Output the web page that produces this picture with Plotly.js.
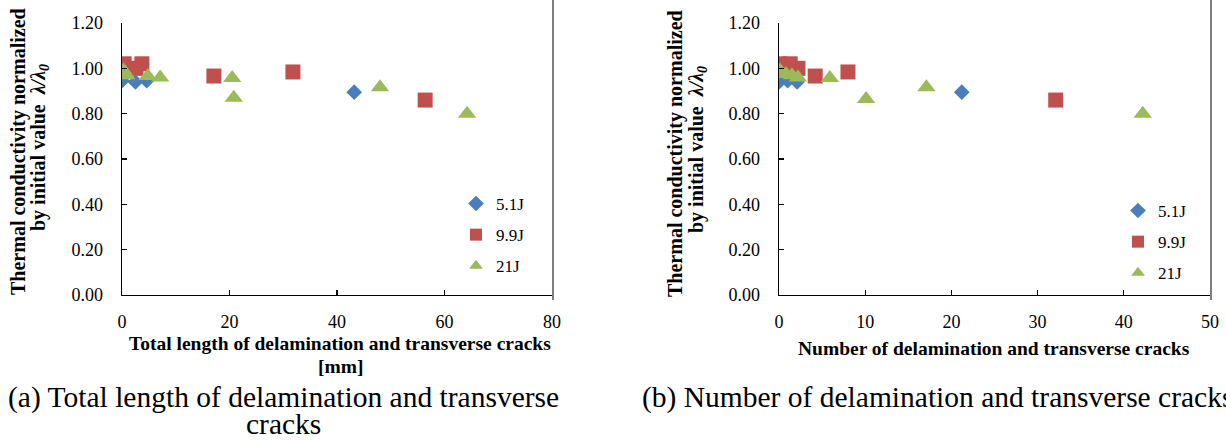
<!DOCTYPE html>
<html>
<head>
<meta charset="utf-8">
<script src="https://cdn.plot.ly/plotly-3.0.1.min.js"></script>
<style>html,body{margin:0;padding:0;background:#fff;}#chart{width:1226px;height:441px;}</style>
</head>
<body>
<div id="chart"></div>
<script>
// ---- data ----
const seriesNames = ["5.1J", "9.9J", "21J"];

// (a) total length of cracks [mm]
const lenA_51 = [0, 2.5, 4.6, 43.2];
const valA_51 = [0.945, 0.94, 0.945, 0.895];
const lenA_99 = [0.4, 2.6, 3.7, 17.1, 31.8, 56.4];
const valA_99 = [1.02, 1.00, 1.02, 0.966, 0.984, 0.86];
const lenA_21 = [0.3, 0.8, 4.8, 7.1, 20.5, 20.8, 48.0, 64.2];
const valA_21 = [0.99, 0.97, 0.966, 0.96, 0.957, 0.87, 0.917, 0.80];

// (b) number of cracks
const numB_51 = [0, 1.0, 2.1, 21.2];
const valB_51 = [0.94, 0.945, 0.94, 0.895];
const numB_99 = [0.1, 1.3, 2.2, 4.2, 8.0, 32.1];
const valB_99 = [1.02, 1.02, 1.00, 0.966, 0.984, 0.86];
const numB_21 = [0.1, 0.8, 1.5, 2.2, 5.9, 10.1, 17.1, 42.2];
const valB_21 = [0.99, 0.975, 0.97, 0.96, 0.957, 0.865, 0.917, 0.80];

const yTicks = [0, 0.2, 0.4, 0.6, 0.8, 1.0, 1.2];
const xTicksA = [0, 20, 40, 60, 80];
const xTicksB = [0, 10, 20, 30, 40, 50];

// ---- styling ----
const W = 1226, H = 441;
const px = x => x / W;
const py = y => 1 - y / H;
const FONT = '"Liberation Serif", "Times New Roman", serif';
const colors = ["#4A7EBB", "#C0504D", "#9BBB59"];
const symbols = ["diamond", "square", "triangle-up"];
const sizes = [12, 15, 16];

function mk(x, y, i, xa, ya, leg) {
  return {
    type: "scatter", mode: "markers", x: x, y: y, name: seriesNames[i],
    xaxis: xa, yaxis: ya, legend: leg, legendgroup: leg + i,
    marker: {symbol: symbols[i], size: sizes[i], color: colors[i], line: {width: 0}},
    hoverinfo: "x+y+name"
  };
}

const data = [
  mk(lenA_51, valA_51, 0, "x", "y", "legend"),
  mk(lenA_99, valA_99, 1, "x", "y", "legend"),
  mk(lenA_21, valA_21, 2, "x", "y", "legend"),
  mk(numB_51, valB_51, 0, "x2", "y2", "legend2"),
  mk(numB_99, valB_99, 1, "x2", "y2", "legend2"),
  mk(numB_21, valB_21, 2, "x2", "y2", "legend2")
];

const tickFont = {family: FONT, size: 18, color: "#000"};
function xax(domain, range, ticks, anchor) {
  return {
    domain: domain, range: range, anchor: anchor, tickvals: ticks,
    ticktext: ticks.map(String), showgrid: false, zeroline: false,
    showline: true, linecolor: "#000", linewidth: 1.3,
    ticks: "inside", ticklen: 5, tickcolor: "#000", tickwidth: 1.3,
    tickfont: tickFont, ticklabelstandoff: 10, fixedrange: true
  };
}
function yax(domain, anchor) {
  return {
    domain: domain, range: [0, 1.2], anchor: anchor, tickvals: yTicks,
    ticktext: yTicks.map(v => v.toFixed(2)), showgrid: false, zeroline: false,
    showline: true, linecolor: "#000", linewidth: 1.3,
    ticks: "inside", ticklen: 5, tickcolor: "#000", tickwidth: 1.3,
    tickfont: tickFont, ticklabelstandoff: 14, fixedrange: true
  };
}

const yDom = [py(295), py(23)];
const titleFont = {family: FONT, size: 19.5, color: "#000"};
const yTitleFont = {family: FONT, size: 20, color: "#000"};
const capFont = {family: FONT, size: 29.5, color: "#000"};
function ann(text, x, y, opts) {
  return Object.assign({
    text: text, x: x, y: y, xref: "paper", yref: "paper",
    showarrow: false, xanchor: "center", yanchor: "middle",
    font: titleFont
  }, opts || {});
}

const annotations = [
  // y titles (a)
  ann("<b>Thermal conductivity normalized</b>", px(18), py(152), {textangle: -90, font: yTitleFont}),
  ann("<b>by initial value  <i>λ/λ<sub>0</sub></i></b>", px(39), py(148), {textangle: -90, font: yTitleFont}),
  // y titles (b)
  ann("<b>Thermal conductivity normalized</b>", px(675), py(154), {textangle: -90, font: yTitleFont}),
  ann("<b>by initial value  <i>λ/λ<sub>0</sub></i></b>", px(698), py(150), {textangle: -90, font: yTitleFont}),
  // x titles
  ann("<b>Total length of delamination and transverse cracks</b>", px(340), py(343)),
  ann("<b>[mm]</b>", px(340), py(366)),
  ann("<b>Number of delamination and transverse cracks</b>", px(994), py(348)),
  // captions
  ann("(a) Total length of delamination and transverse", px(283), py(397), {font: capFont}),
  ann("cracks", px(283), py(424), {font: capFont}),
  ann("(b) Number of delamination and transverse cracks", px(640), py(397), {xanchor: "left", font: capFont})
];

const legendBase = {
  font: {family: FONT, size: 17, color: "#000"},
  bgcolor: "rgba(0,0,0,0)", borderwidth: 0,
  itemsizing: "constant", tracegroupgap: 6, itemwidth: 30,
  xanchor: "left", yanchor: "top", itemclick: false, itemdoubleclick: false
};

const layout = {
  width: W, height: H,
  margin: {l: 0, r: 0, t: 0, b: 0},
  paper_bgcolor: "#fff", plot_bgcolor: "rgba(0,0,0,0)",
  showlegend: true,
  xaxis: xax([px(122), px(552)], [0, 80], xTicksA, "y"),
  yaxis: yax(yDom, "x"),
  xaxis2: xax([px(779), px(1210)], [0, 50], xTicksB, "y2"),
  yaxis2: yax(yDom, "x2"),
  legend: Object.assign({x: px(456), y: py(186)}, legendBase),
  legend2: Object.assign({x: px(1118), y: py(193)}, legendBase),
  annotations: annotations,
  shapes: [
    {type: "line", xref: "paper", yref: "paper", x0: px(553), x1: px(553), y0: py(0), y1: py(300), line: {color: "#7f7f7f", width: 2}},
    {type: "line", xref: "paper", yref: "paper", x0: px(1211), x1: px(1211), y0: py(0), y1: py(300), line: {color: "#7f7f7f", width: 2}}
  ]
};

Plotly.newPlot("chart", data, layout, {displayModeBar: false, staticPlot: true});
</script>
</body>
</html>
